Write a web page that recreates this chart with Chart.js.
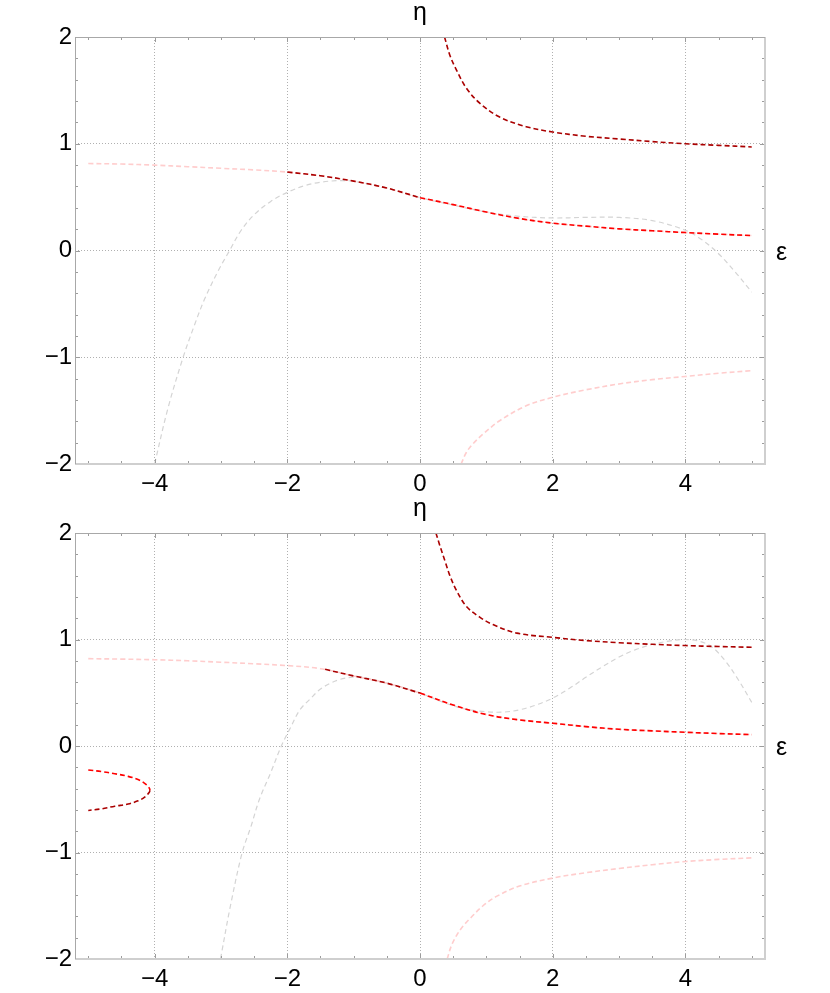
<!DOCTYPE html>
<html>
<head>
<meta charset="utf-8">
<script src="https://cdn.jsdelivr.net/npm/chart.js@4.4.1/dist/chart.umd.min.js"></script>
<style>
  html, body { margin: 0; padding: 0; background: #fff; }
  #wrap { position: relative; width: 830px; height: 993px; }
  canvas { position: absolute; left: 0; }
  #topChart { top: 0; }
  #bottomChart { top: 496px; }
</style>
</head>
<body>
<div id="wrap">
  <canvas id="topChart" width="830" height="496"></canvas>
  <canvas id="bottomChart" width="830" height="497"></canvas>
</div>
<script>
// --- axis ticks ---
const epsTicks = [-4, -2, 0, 2, 4];
const etaTicks = [-2, -1, 0, 1, 2];
const epsMinor = [-5, -4.5, -3.5, -3, -2.5, -1.5, -1, -0.5, 0.5, 1, 1.5, 2.5, 3, 3.5, 4.5, 5];
const etaMinor = [-1.8, -1.6, -1.4, -1.2, -0.8, -0.6, -0.4, -0.2, 0.2, 0.4, 0.6, 0.8, 1.2, 1.4, 1.6, 1.8];

// --- top panel ---
const topUpperEps = [0.37, 0.45, 0.55, 0.70, 0.90, 1.2, 1.6, 2.0, 2.5, 3.0, 3.5, 4.0, 4.5, 5.0];
const topUpperEta = [2.0, 1.83, 1.69, 1.52, 1.38, 1.25, 1.16, 1.11, 1.07, 1.045, 1.02, 1.0, 0.985, 0.97];

const topMidEps = [-5, -4.5, -4, -3.5, -3, -2.5, -2, -1.5, -1, -0.5, 0, 0.5, 1, 1.5, 2, 2.5, 3, 3.5, 4, 4.5, 5];
const topMidEta = [0.815, 0.81, 0.80, 0.785, 0.77, 0.755, 0.735, 0.70, 0.65, 0.585, 0.495, 0.43, 0.36, 0.30, 0.256, 0.228, 0.203, 0.185, 0.168, 0.153, 0.14];

const topDarkMidEps = [-2, -1.5, -1, -0.5, 0];
const topDarkMidEta = [0.735, 0.70, 0.65, 0.585, 0.495];

const topRedMidEps = [0, 0.5, 1, 1.5, 2, 2.5, 3, 3.5, 4, 4.5, 5];
const topRedMidEta = [0.495, 0.43, 0.36, 0.30, 0.256, 0.228, 0.203, 0.185, 0.168, 0.153, 0.14];

const topLowerEps = [0.62, 0.7, 0.8, 0.95, 1.2, 1.6, 2.0, 2.5, 3.0, 3.5, 4.0, 4.5, 5.0];
const topLowerEta = [-2.0, -1.89, -1.81, -1.72, -1.595, -1.455, -1.375, -1.305, -1.25, -1.21, -1.18, -1.15, -1.125];

const topGrayEps = [-4.0, -3.8, -3.57, -3.4, -3.25, -3.05, -2.87, -2.7, -2.5, -2.25, -2.0, -1.75, -1.5, -1.2, -1.0, -0.5, 0, 0.5, 1.0, 1.5, 2.0, 2.5, 3.0, 3.5, 4.0, 4.25, 4.5, 4.75, 5.0];
const topGrayEta = [-2.0, -1.48, -1.0, -0.7, -0.46, -0.2, 0.0, 0.185, 0.335, 0.46, 0.545, 0.605, 0.64, 0.655, 0.648, 0.585, 0.495, 0.425, 0.36, 0.32, 0.305, 0.31, 0.31, 0.28, 0.19, 0.10, -0.03, -0.20, -0.39];

// --- bottom panel ---
const botUpperEps = [0.24, 0.3, 0.38, 0.45, 0.55, 0.7, 0.9, 1.1, 1.46, 2.0, 2.5, 3.0, 3.5, 4.0, 4.5, 5.0];
const botUpperEta = [2.0, 1.88, 1.73, 1.60, 1.46, 1.31, 1.21, 1.14, 1.06, 1.02, 0.99, 0.97, 0.955, 0.943, 0.934, 0.927];

const botMidEps = [-5, -4.5, -4, -3.5, -3, -2.5, -2, -1.5, -1, -0.5, 0, 0.5, 1, 1.5, 2, 2.5, 3, 3.5, 4, 4.5, 5];
const botMidEta = [0.82, 0.816, 0.81, 0.80, 0.787, 0.772, 0.755, 0.726, 0.658, 0.59, 0.497, 0.385, 0.295, 0.245, 0.214, 0.182, 0.157, 0.142, 0.129, 0.117, 0.107];

const botDarkMidEps = [-1.43, -1, -0.5, 0];
const botDarkMidEta = [0.72, 0.658, 0.59, 0.497];

const botRedMidEps = [0, 0.5, 1, 1.5, 2, 2.5, 3, 3.5, 4, 4.5, 5];
const botRedMidEta = [0.497, 0.385, 0.295, 0.245, 0.214, 0.182, 0.157, 0.142, 0.129, 0.117, 0.107];

const botLowerEps = [0.41, 0.47, 0.55, 0.65, 0.77, 0.95, 1.16, 1.5, 2.0, 2.5, 3.0, 3.5, 4.0, 4.5, 5.0];
const botLowerEta = [-2.0, -1.88, -1.78, -1.69, -1.61, -1.50, -1.41, -1.315, -1.24, -1.19, -1.15, -1.115, -1.085, -1.065, -1.05];

const botGrayEps = [-3.007, -2.857, -2.68, -2.55, -2.42, -2.25, -2.09, -1.95, -1.81, -1.65, -1.51, -1.35, -1.21, -1.05, -0.9, -0.5, 0, 0.35, 0.7, 1.0, 1.25, 1.5, 1.75, 2.0, 2.25, 2.5, 2.75, 3.0, 3.25, 3.5, 3.75, 4.0, 4.2, 4.4, 4.6, 4.8, 5.0];
const botGrayEta = [-2.0, -1.5, -1.0, -0.76, -0.5, -0.25, 0.0, 0.175, 0.34, 0.445, 0.53, 0.59, 0.625, 0.645, 0.65, 0.59, 0.497, 0.41, 0.345, 0.322, 0.318, 0.34, 0.385, 0.45, 0.54, 0.645, 0.745, 0.835, 0.905, 0.953, 0.985, 1.0, 0.985, 0.93, 0.80, 0.62, 0.41];

// small closed branch on the left (upper half red, lower half dark red)
const loopRedEps = [-5, -4.8, -4.6, -4.4, -4.25, -4.15, -4.08, -4.07];
const loopRedEta = [-0.225, -0.24, -0.26, -0.285, -0.315, -0.35, -0.395, -0.415];
const loopDarkEps = [-4.07, -4.08, -4.15, -4.25, -4.4, -4.6, -4.8, -5];
const loopDarkEta = [-0.415, -0.435, -0.48, -0.515, -0.545, -0.565, -0.59, -0.605];

// --- styles ---
const DARK_RED = '#aa0000';
const RED = '#ff0000';
const PINK = 'rgb(255, 205, 205)';
const GRAY = '#d4d4d4';
const FONT = "'Liberation Sans', Arial, sans-serif";

function pts(xs, ys) {
    return xs.map((x, i) => ({ x: x, y: ys[i] }));
}

function curve(xs, ys, color, width, dash) {
    return {
        data: pts(xs, ys),
        showLine: true,
        borderColor: color,
        backgroundColor: color,
        borderWidth: width,
        borderDash: dash,
        pointRadius: 0,
        tension: 0.35,
        fill: false
    };
}

function fmt(v) {
    return v < 0 ? '\u2212' + Math.abs(v) : String(v);
}

// frame, frame ticks and axis letters
const framePlugin = {
    id: 'frame',
    afterDraw(chart) {
        const { ctx, chartArea: a, scales: { x, y } } = chart;
        ctx.save();
        ctx.strokeStyle = '#9c9c9c';
        ctx.lineWidth = 1;
        ctx.setLineDash([]);
        const vTicks = (list, len) => list.forEach(v => {
            const px = Math.round(x.getPixelForValue(v)) + 0.5;
            ctx.beginPath();
            ctx.moveTo(px, a.bottom); ctx.lineTo(px, a.bottom - len);
            ctx.moveTo(px, a.top); ctx.lineTo(px, a.top + len);
            ctx.stroke();
        });
        const hTicks = (list, len) => list.forEach(v => {
            const py = Math.round(y.getPixelForValue(v)) + 0.5;
            ctx.beginPath();
            ctx.moveTo(a.left, py); ctx.lineTo(a.left + len, py);
            ctx.moveTo(a.right, py); ctx.lineTo(a.right - len, py);
            ctx.stroke();
        });
        vTicks(epsMinor, 3);
        vTicks(epsTicks, 5);
        hTicks(etaMinor, 3);
        hTicks(etaTicks, 5);

        // bottom + right edges: lighter, wider
        ctx.strokeStyle = '#cfcfcf';
        ctx.lineWidth = 2;
        ctx.beginPath();
        ctx.moveTo(a.left, a.bottom); ctx.lineTo(a.right, a.bottom); ctx.lineTo(a.right, a.top);
        ctx.stroke();
        // top + left edges
        ctx.strokeStyle = '#a8a8a8';
        ctx.lineWidth = 1;
        ctx.beginPath();
        ctx.moveTo(a.left + 0.5, a.bottom); ctx.lineTo(a.left + 0.5, a.top + 0.5); ctx.lineTo(a.right, a.top + 0.5);
        ctx.stroke();

        ctx.fillStyle = '#000';
        ctx.font = '25px ' + FONT;
        ctx.textBaseline = 'alphabetic';
        ctx.textAlign = 'center';
        ctx.fillText('\u03b7', x.getPixelForValue(0), a.top - 17);
        ctx.textAlign = 'left';
        ctx.fillText('\u03b5', a.right + 11, y.getPixelForValue(0) + 9);
        ctx.restore();
    }
};

function makeChart(id, datasets, xHeight) {
    return new Chart(document.getElementById(id), {
        type: 'scatter',
        data: { datasets: datasets },
        options: {
            responsive: false,
            animation: false,
            layout: { padding: { left: 0, right: 65, top: 37, bottom: 0 } },
            plugins: { legend: { display: false }, tooltip: { enabled: false } },
            scales: {
                x: {
                    type: 'linear',
                    min: -5.2,
                    max: 5.2,
                    afterBuildTicks: s => { s.ticks = epsTicks.map(v => ({ value: v })); },
                    afterFit: s => { s.height = xHeight; },
                    ticks: {
                        autoSkip: false, maxRotation: 0, padding: 6,
                        color: '#000', font: { family: FONT, size: 24 },
                        callback: v => fmt(v)
                    },
                    grid: { color: '#b0b0b0', lineWidth: 1, drawTicks: false },
                    border: { display: false, dash: [1, 2] }
                },
                y: {
                    type: 'linear',
                    min: -2,
                    max: 2,
                    afterBuildTicks: s => { s.ticks = etaTicks.map(v => ({ value: v })); },
                    afterFit: s => { s.width = 75; },
                    ticks: {
                        autoSkip: false, padding: 3,
                        color: '#000', font: { family: FONT, size: 24 },
                        callback: v => fmt(v)
                    },
                    grid: { color: '#b0b0b0', lineWidth: 1, drawTicks: false },
                    border: { display: false, dash: [1, 2] }
                }
            }
        },
        plugins: [framePlugin]
    });
}

// datasets listed top-most first
makeChart('topChart', [
    curve(topRedMidEps, topRedMidEta, RED, 1.6, [5, 3]),
    curve(topUpperEps, topUpperEta, DARK_RED, 1.6, [5, 3]),
    curve(topDarkMidEps, topDarkMidEta, DARK_RED, 1.6, [5, 3]),
    curve(topMidEps, topMidEta, PINK, 1.6, [5, 3]),
    curve(topLowerEps, topLowerEta, PINK, 1.6, [5, 3]),
    curve(topGrayEps, topGrayEta, GRAY, 1.2, [5, 3.5])
], 32);

makeChart('bottomChart', [
    curve(botRedMidEps, botRedMidEta, RED, 1.6, [5, 3]),
    curve(loopRedEps, loopRedEta, RED, 1.6, [5, 3]),
    curve(loopDarkEps, loopDarkEta, DARK_RED, 1.6, [5, 3]),
    curve(botUpperEps, botUpperEta, DARK_RED, 1.6, [5, 3]),
    curve(botDarkMidEps, botDarkMidEta, DARK_RED, 1.6, [5, 3]),
    curve(botMidEps, botMidEta, PINK, 1.6, [5, 3]),
    curve(botLowerEps, botLowerEta, PINK, 1.6, [5, 3]),
    curve(botGrayEps, botGrayEta, GRAY, 1.2, [5, 3.5])
], 34);
</script>
</body>
</html>
